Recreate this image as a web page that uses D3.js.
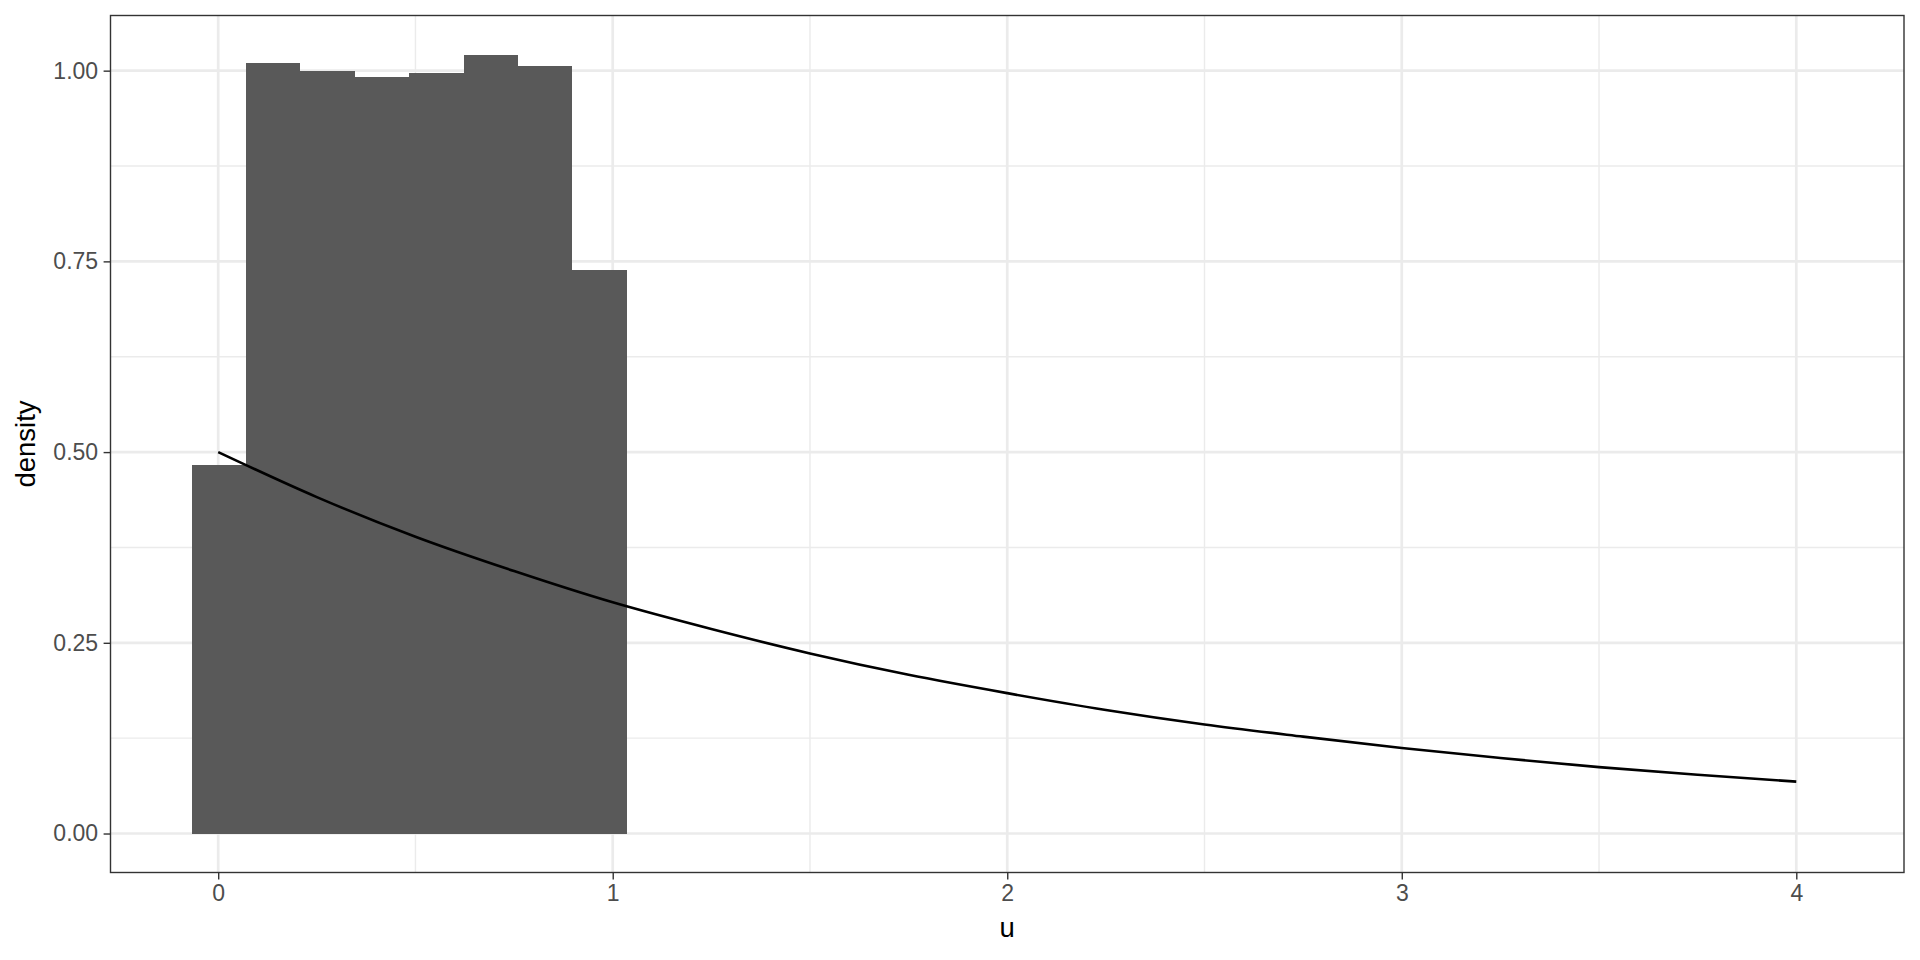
<!DOCTYPE html>
<html>
<head>
<meta charset="utf-8">
<script src="https://cdn.jsdelivr.net/npm/d3@7"></script>
<style>
  html, body { margin: 0; padding: 0; background: #ffffff; }
  svg { display: block; }
</style>
</head>
<body>
<script>
// ---- data ----
const binEdges = [-0.067, 0.071, 0.208, 0.346, 0.484, 0.622, 0.760, 0.897, 1.035];
const binDensity = [0.483, 1.010, 1.000, 0.992, 0.997, 1.021, 1.006, 0.739];
const curveX = [0, 0.25, 0.5, 0.75, 1, 1.25, 1.5, 1.75, 2, 2.25, 2.5, 2.75, 3, 3.25, 3.5, 3.75, 4];
const curveY = [0.500, 0.441, 0.389, 0.344, 0.303, 0.268, 0.236, 0.208, 0.184, 0.162, 0.143, 0.127, 0.112, 0.099, 0.087, 0.077, 0.068];
const xTicks = [0, 1, 2, 3, 4];
const xMinor = [0.5, 1.5, 2.5, 3.5];
const yTicks = [0, 0.25, 0.5, 0.75, 1.0];
const yMinor = [0.125, 0.375, 0.625, 0.875];
const xTitle = "u";
const yTitle = "density";

// ---- layout ----
const W = 1920, H = 960;
const panel = { left: 110.5, right: 1904, top: 15.5, bottom: 872.5 };

const svg = d3.select("body").append("svg").attr("width", W).attr("height", H);

const x = d3.scaleLinear().domain([-0.273, 4.273]).range([panel.left, panel.right]);
const y = d3.scaleLinear().domain([-0.0511, 1.0723]).range([panel.bottom, panel.top]);

const font = "'Liberation Sans', Arial, Helvetica, sans-serif";

// panel background
svg.append("rect").attr("x", panel.left).attr("y", panel.top)
  .attr("width", panel.right - panel.left).attr("height", panel.bottom - panel.top)
  .attr("fill", "#ffffff");

const grid = svg.append("g");
// minor grid
grid.selectAll("line.xmin").data(xMinor).join("line")
  .attr("x1", d => x(d)).attr("x2", d => x(d))
  .attr("y1", panel.top).attr("y2", panel.bottom)
  .attr("stroke", "#EBEBEB").attr("stroke-width", 1.4);
grid.selectAll("line.ymin").data(yMinor).join("line")
  .attr("y1", d => y(d)).attr("y2", d => y(d))
  .attr("x1", panel.left).attr("x2", panel.right)
  .attr("stroke", "#EBEBEB").attr("stroke-width", 1.4);
// major grid
grid.selectAll("line.xmaj").data(xTicks).join("line")
  .attr("x1", d => x(d)).attr("x2", d => x(d))
  .attr("y1", panel.top).attr("y2", panel.bottom)
  .attr("stroke", "#EBEBEB").attr("stroke-width", 2.7);
grid.selectAll("line.ymaj").data(yTicks).join("line")
  .attr("y1", d => y(d)).attr("y2", d => y(d))
  .attr("x1", panel.left).attr("x2", panel.right)
  .attr("stroke", "#EBEBEB").attr("stroke-width", 2.7);

// histogram bars
const bins = binDensity.map((v, i) => ({ x0: binEdges[i], x1: binEdges[i + 1], v }));
svg.append("g").selectAll("rect").data(bins).join("rect")
  .attr("x", d => x(d.x0))
  .attr("width", d => x(d.x1) - x(d.x0))
  .attr("y", d => y(d.v))
  .attr("height", d => y(0) - y(d.v))
  .attr("fill", "#595959")
  .attr("shape-rendering", "crispEdges");

// density curve
const pts = curveX.map((v, i) => [v, curveY[i]]);
svg.append("path").datum(pts)
  .attr("d", d3.line().x(d => x(d[0])).y(d => y(d[1])).curve(d3.curveMonotoneX))
  .attr("fill", "none").attr("stroke", "#000000").attr("stroke-width", 2.6);

// panel border
svg.append("rect").attr("x", panel.left).attr("y", panel.top)
  .attr("width", panel.right - panel.left).attr("height", panel.bottom - panel.top)
  .attr("fill", "none").attr("stroke", "#333333").attr("stroke-width", 1.4);

// axes
const xAxis = d3.axisBottom(x).tickValues(xTicks).tickFormat(d3.format("d"))
  .tickSize(6.9).tickPadding(5.5);
const gx = svg.append("g").attr("transform", `translate(0,${panel.bottom})`).call(xAxis);
gx.select(".domain").remove();
gx.selectAll(".tick line").attr("stroke", "#333333").attr("stroke-width", 1.4);
gx.selectAll(".tick text").attr("fill", "#4D4D4D").attr("font-size", 23).attr("font-family", font);

const yAxis = d3.axisLeft(y).tickValues(yTicks).tickFormat(d3.format(".2f"))
  .tickSize(6.9).tickPadding(5.5);
const gy = svg.append("g").attr("transform", `translate(${panel.left},0)`).call(yAxis);
gy.select(".domain").remove();
gy.selectAll(".tick line").attr("stroke", "#333333").attr("stroke-width", 1.4);
gy.selectAll(".tick text").attr("fill", "#4D4D4D").attr("font-size", 23).attr("font-family", font);

// titles
svg.append("text").attr("x", (panel.left + panel.right) / 2).attr("y", 937)
  .attr("text-anchor", "middle").attr("font-size", 27.5).attr("font-family", font)
  .attr("fill", "#000000").text(xTitle);
svg.append("text")
  .attr("transform", `translate(35,${(panel.top + panel.bottom) / 2}) rotate(-90)`)
  .attr("text-anchor", "middle").attr("font-size", 27.5).attr("font-family", font)
  .attr("fill", "#000000").text(yTitle);
</script>
</body>
</html>
